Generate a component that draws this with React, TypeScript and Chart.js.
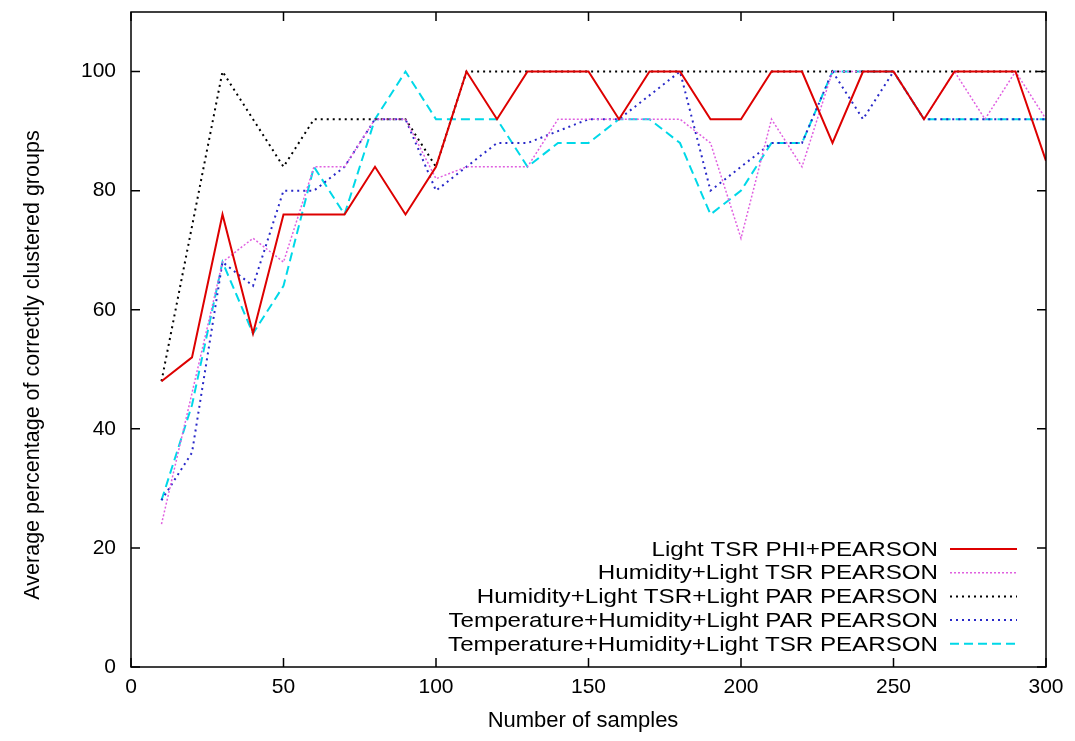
import React, { useEffect, useRef } from "react";
import { Chart, registerables } from "chart.js";

Chart.register(...registerables);

const samples = [10, 20, 30, 40, 50, 60, 70, 80, 90, 100, 110, 120, 130, 140, 150, 160, 170, 180, 190, 200, 210, 220, 230, 240, 250, 260, 270, 280, 290, 300];

const lightTsrPhiPearson = [48, 52, 76, 56, 76, 76, 76, 84, 76, 84, 100, 92, 100, 100, 100, 92, 100, 100, 92, 92, 100, 100, 88, 100, 100, 92, 100, 100, 100, 85];
const humidityLightTsrPearson = [24, 46, 68, 72, 68, 84, 84, 92, 92, 82, 84, 84, 84, 92, 92, 92, 92, 92, 88, 72, 92, 84, 100, 100, 100, 92, 100, 92, 100, 92];
const humidityTsrParPearson = [48, 74, 100, 92, 84, 92, 92, 92, 92, 84, 100, 100, 100, 100, 100, 100, 100, 100, 100, 100, 100, 100, 100, 100, 100, 100, 100, 100, 100, 100];
const tempHumidityParPearson = [28, 36, 68, 64, 80, 80, 84, 92, 92, 80, 84, 88, 88, 90, 92, 92, 96, 100, 80, 84, 88, 88, 100, 92, 100, 92, 92, 92, 92, 92];
const tempHumidityTsrPearson = [28, 44, 68, 56, 64, 84, 76, 92, 100, 92, 92, 92, 84, 88, 88, 92, 92, 88, 76, 80, 88, 88, 100, 100, 100, 92, 92, 92, 92, 92];

const seriesLabels = [
  "Light TSR PHI+PEARSON",
  "Humidity+Light TSR PEARSON",
  "Humidity+Light TSR+Light PAR PEARSON",
  "Temperature+Humidity+Light PAR PEARSON",
  "Temperature+Humidity+Light TSR PEARSON",
];

const xTicks = [0, 50, 100, 150, 200, 250, 300];
const yTicks = [0, 20, 40, 60, 80, 100];
const yTitle = "Average percentage of correctly clustered groups";
const xTitle = "Number of samples";

const FONT = "'Liberation Sans', Arial, Helvetica, sans-serif";

const frameAndKey = {
  id: "frameAndKey",
  afterDraw(chart: any) {
    const { ctx, chartArea } = chart;
    const { left, right, top, bottom } = chartArea;
    const xs = chart.scales.x;
    const ys = chart.scales.y;
    ctx.save();
    ctx.strokeStyle = "#000";
    ctx.lineWidth = 1.5;
    ctx.setLineDash([]);
    ctx.strokeRect(left, top, right - left, bottom - top);
    const tl = 9;
    ctx.beginPath();
    xTicks.forEach((v) => {
      const px = xs.getPixelForValue(v);
      ctx.moveTo(px, bottom);
      ctx.lineTo(px, bottom - tl);
      ctx.moveTo(px, top);
      ctx.lineTo(px, top + tl);
    });
    yTicks.forEach((v) => {
      const py = ys.getPixelForValue(v);
      ctx.moveTo(left, py);
      ctx.lineTo(left + tl, py);
      ctx.moveTo(right, py);
      ctx.lineTo(right - tl, py);
    });
    ctx.stroke();

    // axis titles
    ctx.save();
    ctx.fillStyle = "#000";
    ctx.font = `21.5px ${FONT}`;
    ctx.textAlign = "center";
    ctx.textBaseline = "middle";
    ctx.translate(33, 365);
    ctx.rotate(-Math.PI / 2);
    ctx.fillText(yTitle, 0, 0);
    ctx.restore();

    ctx.save();
    ctx.fillStyle = "#000";
    ctx.font = `22px ${FONT}`;
    ctx.textAlign = "center";
    ctx.textBaseline = "middle";
    ctx.fillText(xTitle, 583, 721);
    ctx.restore();

    // key
    chart.data.datasets.forEach((ds: any, i: number) => {
      const y = bottom - 118 + i * 23.7;
      ctx.save();
      ctx.font = `21px ${FONT}`;
      ctx.textAlign = "right";
      ctx.textBaseline = "middle";
      ctx.fillStyle = "#000";
      ctx.translate(right - 108, y);
      ctx.scale(1.15, 1);
      ctx.fillText(ds.label, 0, 1);
      ctx.restore();
      ctx.beginPath();
      ctx.strokeStyle = ds.borderColor;
      ctx.lineWidth = ds.borderWidth;
      ctx.setLineDash(ds.borderDash || []);
      ctx.moveTo(right - 96, y);
      ctx.lineTo(right - 29, y);
      ctx.stroke();
    });
    ctx.restore();
  },
};

export default function App() {
  const ref = useRef<HTMLCanvasElement | null>(null);

  useEffect(() => {
    document.body.style.margin = "0";
    const canvas = ref.current;
    if (!canvas) return;
    const mk = (vals: number[]) => samples.map((s, i) => ({ x: s, y: vals[i] }));
    const chart = new Chart(canvas, {
      type: "line",
      data: {
        datasets: [
          { label: seriesLabels[0], data: mk(lightTsrPhiPearson), borderColor: "#dd0000", borderWidth: 2, borderDash: [] },
          { label: seriesLabels[1], data: mk(humidityLightTsrPearson), borderColor: "#e060e0", borderWidth: 1.5, borderDash: [2, 2] },
          { label: seriesLabels[2], data: mk(humidityTsrParPearson), borderColor: "#000000", borderWidth: 2, borderDash: [2, 4] },
          { label: seriesLabels[3], data: mk(tempHumidityParPearson), borderColor: "#2828c8", borderWidth: 2, borderDash: [2, 4] },
          { label: seriesLabels[4], data: mk(tempHumidityTsrPearson), borderColor: "#00d8e8", borderWidth: 2, borderDash: [9, 5] },
        ] as any,
      },
      options: {
        animation: false,
        responsive: false,
        maintainAspectRatio: false,
        layout: { padding: { left: 0, right: 29, top: 12, bottom: 0 } },
        elements: { point: { radius: 0 }, line: { tension: 0 } },
        plugins: { legend: { display: false }, tooltip: { enabled: false } },
        scales: {
          x: {
            type: "linear",
            min: 0,
            max: 300,
            grid: { display: false, drawTicks: false },
            border: { display: false },
            ticks: { stepSize: 50, color: "#000", padding: 10, font: { family: FONT, size: 21, lineHeight: 1 }, maxRotation: 0 },
            afterFit: (s: any) => { s.height = 74; },
          },
          y: {
            type: "linear",
            min: 0,
            max: 110,
            grid: { display: false, drawTicks: false },
            border: { display: false },
            ticks: { stepSize: 20, color: "#000", padding: 15, font: { family: FONT, size: 21, lineHeight: 1 } },
            afterBuildTicks: (s: any) => { s.ticks = s.ticks.filter((t: any) => t.value <= 100); },
            afterFit: (s: any) => { s.width = 131; s.paddingTop = 0; s.paddingBottom = 0; },
          },
        },
      } as any,
      plugins: [frameAndKey],
    });
    return () => chart.destroy();
  }, []);

  return (
    <div style={{ width: 1075, height: 741, background: "#fff" }}>
      <canvas ref={ref} width={1075} height={741} style={{ display: "block" }} />
    </div>
  );
}
